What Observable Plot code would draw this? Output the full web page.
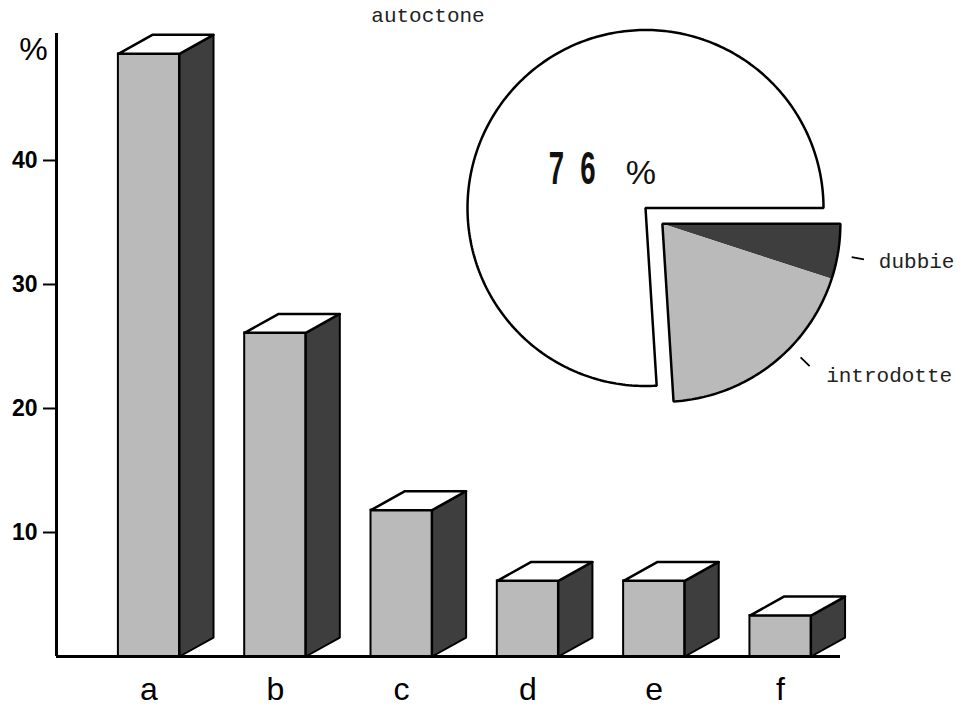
<!DOCTYPE html>
<html>
<head>
<meta charset="utf-8">
<script src="https://cdn.jsdelivr.net/npm/d3@7"></script>
<script src="https://cdn.jsdelivr.net/npm/@observablehq/plot@0.6"></script>
<style>
html, body { margin: 0; padding: 0; background: #fff; }
#wrap { position: relative; width: 963px; height: 709px; overflow: hidden; background: #fff; }
#wrap svg { position: absolute; left: 0; top: 0; }
</style>
</head>
<body>
<div id="wrap"></div>
<script>
// ---------- data ----------
const categories = ["a", "b", "c", "d", "e", "f"];
const percentages = [48.6, 26.1, 11.8, 6.1, 6.1, 3.3];
const yTicks = [10, 20, 30, 40];
const yUnit = "%";

const pieCategories = ["dubbie", "introdotte", "autoctone"];
const pieValues = [5, 19, 76];
const pieTitle = "autoctone";
const explodedCategories = ["dubbie", "introdotte"];

// ---------- styles ----------
const W = 963, H = 709;
const LIGHT = "#bababa", DARK = "#3e3e3e";
const SANS = "'Liberation Sans', Arial, Helvetica, sans-serif";
const MONO = "'Liberation Mono', 'Courier New', monospace";

const wrap = document.getElementById("wrap");

// ---------- 3D bar chart ----------
const halfW = 0.242, depthX = 0.269, depthY = 1.53;
const xDomain = [-0.732, 5.475];
const yDomain = [0, 50.24];
const bars = categories.map((c, i) => ({c, i, v: percentages[i]}));
const sides = bars.flatMap(b => {
  const xr = b.i + halfW;
  return [[xr, 0], [xr + depthX, depthY], [xr + depthX, b.v + depthY], [xr, b.v]]
    .map(([x, y]) => ({c: b.c, x, y}));
});
const tops = bars.flatMap(b => {
  const xl = b.i - halfW, xr = b.i + halfW;
  return [[xl, b.v], [xr, b.v], [xr + depthX, b.v + depthY], [xl + depthX, b.v + depthY]]
    .map(([x, y]) => ({c: b.c, x, y}));
});

const barChart = Plot.plot({
  width: W, height: H,
  marginLeft: 56, marginRight: W - 840, marginTop: 33, marginBottom: H - 656,
  style: {fontFamily: SANS, background: "transparent", color: "#000"},
  x: {domain: xDomain},
  y: {domain: yDomain},
  marks: [
    Plot.rect(bars, {x1: d => d.i - halfW, x2: d => d.i + halfW, y1: 0, y2: "v",
      fill: LIGHT, stroke: "#000", strokeWidth: 2}),
    Plot.line(sides, {x: "x", y: "y", z: "c", fill: DARK, stroke: "#000", strokeWidth: 2,
      curve: "linear-closed", strokeLinejoin: "round"}),
    Plot.line(tops, {x: "x", y: "y", z: "c", fill: "#fff", stroke: "#000", strokeWidth: 2.5,
      curve: "linear-closed", strokeLinejoin: "round"}),
    Plot.ruleY([0], {stroke: "#000", strokeWidth: 3}),
    Plot.ruleX([xDomain[0]], {y1: yDomain[0], y2: yDomain[1], stroke: "#000", strokeWidth: 3}),
    Plot.axisY({ticks: yTicks, tickSize: 13, tickPadding: 6, fontSize: 23, fontWeight: "bold",
      strokeWidth: 2, label: null}),
    Plot.axisX({ticks: d3.range(categories.length), tickFormat: i => categories[i],
      tickSize: 0, tickPadding: 21, fontSize: 32, label: null}),
    Plot.text([yUnit], {frameAnchor: "top-left", dx: -23, dy: 16, textAnchor: "middle",
      lineAnchor: "middle", fontSize: 32, fill: "#000"})
  ]
});
wrap.appendChild(barChart);

// ---------- exploded pie ----------
const arcs = d3.pie().sort(null).startAngle(Math.PI / 2).endAngle(Math.PI / 2 + 2 * Math.PI)(pieValues)
  .map((a, k) => ({...a, cat: pieCategories[k]}));
const expl = arcs.filter(a => explodedCategories.includes(a.cat));
const explStart = d3.min(expl, a => a.startAngle), explEnd = d3.max(expl, a => a.endAngle);
const explMid = (explStart + explEnd) / 2;
const explDist = 0.13;
const eox = explDist * Math.sin(explMid), eoy = explDist * Math.cos(explMid);

function sector(a0, a1, ox, oy, key) {
  const n = Math.max(2, Math.ceil((a1 - a0) / (Math.PI / 180)));
  const pts = [{key, x: ox, y: oy}];
  for (let k = 0; k <= n; k++) {
    const a = a0 + (a1 - a0) * k / n;
    pts.push({key, x: ox + Math.sin(a), y: oy + Math.cos(a)});
  }
  return pts;
}
const fills = {autoctone: "#fff", introdotte: LIGHT, dubbie: DARK};
const sliceMarks = arcs.map(a => {
  const ex = explodedCategories.includes(a.cat);
  return Plot.line(sector(a.startAngle, a.endAngle, ex ? eox : 0, ex ? eoy : 0, a.cat),
    {x: "x", y: "y", fill: fills[a.cat], stroke: "none", curve: "linear-closed"});
});
const mainArc = arcs.find(a => a.cat === "autoctone");
const outlines = [
  ...sector(mainArc.startAngle, mainArc.endAngle, 0, 0, "main"),
  ...sector(explStart, explEnd, eox, eoy, "expl")
];

// label dashes (angle in degrees around exploded centre)
const labelAngles = {dubbie: 100, introdotte: 134};
const labelOffsets = {dubbie: 3.3, introdotte: 13.3};
const labels = explodedCategories.map(cat => {
  const a = labelAngles[cat] * Math.PI / 180;
  return {cat,
    x1: eox + 1.08 * Math.sin(a), y1: eoy + 1.08 * Math.cos(a),
    x2: eox + 1.15 * Math.sin(a), y2: eoy + 1.15 * Math.cos(a),
    xm: eox + 1.115 * Math.sin(a), ym: eoy + 1.115 * Math.cos(a)};
});

// main percentage inside autoctone slice
const mainMid = (mainArc.startAngle + mainArc.endAngle) / 2;
const pctPos = {x: 0.34 * Math.sin(mainMid), y: 0.34 * Math.cos(mainMid)};
const digits = String(mainArc.value).split("");
const digitDx = [-45, -13.5];

const pieChart = Plot.plot({
  width: W, height: H,
  marginLeft: 467, marginRight: W - 823, marginTop: 29.5, marginBottom: H - 385.5,
  style: {fontFamily: SANS, background: "transparent", color: "#000"},
  x: {domain: [-1, 1], axis: null},
  y: {domain: [-1, 1], axis: null},
  marks: [
    ...sliceMarks,
    Plot.line(outlines, {x: "x", y: "y", z: "key", fill: "none", stroke: "#000", strokeWidth: 2.5,
      curve: "linear-closed", strokeLinejoin: "miter"}),
    Plot.link(labels, {x1: "x1", y1: "y1", x2: "x2", y2: "y2", stroke: "#000", strokeWidth: 1.8}),
    ...labels.map(l => Plot.text([l], {x: "xm", y: "ym", text: "cat", dx: 21, dy: labelOffsets[l.cat],
      textAnchor: "start", lineAnchor: "middle", fontSize: 21, fontFamily: MONO, fill: "#222"})),
    Plot.text([pieTitle], {frameAnchor: "top-left", dx: -39.5, dy: -15.2, textAnchor: "middle",
      lineAnchor: "middle", fontSize: 21, fontFamily: MONO, fill: "#222"}),
    ...digits.map((ch, k) => Plot.text([ch], {x: pctPos.x, y: pctPos.y, text: d => d, dx: digitDx[k], dy: 3,
      textAnchor: "middle", lineAnchor: "middle", fontSize: 46, fontWeight: "bold", fill: "#111"})),
    Plot.text(["%"], {x: pctPos.x, y: pctPos.y, text: d => d, dx: 39.5, dy: 7,
      textAnchor: "middle", lineAnchor: "middle", fontSize: 34, fill: "#111"})
  ]
});
// condense the big digits
d3.select(pieChart).selectAll("text").filter(function () {
  return digits.includes(this.textContent);
}).attr("transform", function () {
  const t = this.getAttribute("transform") || "";
  return t + " scale(0.6,1)";
});
wrap.appendChild(pieChart);
</script>
</body>
</html>
